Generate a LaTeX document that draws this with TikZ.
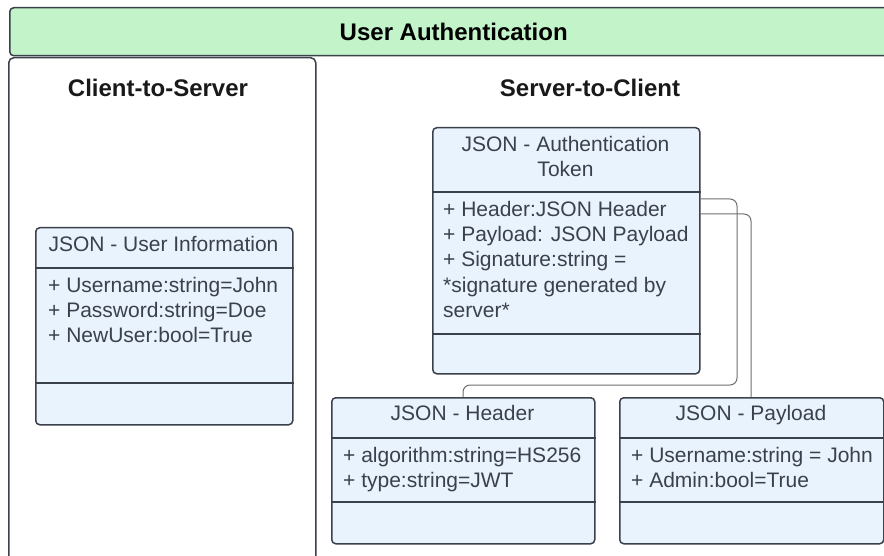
\documentclass[tikz,border=0pt]{standalone}
\usepackage{fontspec}
\setmainfont{Liberation Sans}
\usepackage{xcolor}
\usetikzlibrary{positioning}

\definecolor{edgegray}{HTML}{3A414A}
\definecolor{bannergreen}{HTML}{C3F3C9}
\definecolor{classblue}{HTML}{E9F3FE}
\definecolor{wiregray}{HTML}{6E6E6E}

\tikzset{
    classbox/.style={draw=edgegray, line width=1.5pt, fill=classblue, rounded corners=4pt, anchor=north west, inner sep=0pt},
    sepline/.style={draw=edgegray, line width=1.5pt},
    cname/.style={anchor=base, inner sep=0pt, text=edgegray, font=\fontsize{21}{25}\selectfont},
    attr/.style={anchor=base west, inner sep=0pt, text=edgegray, font=\fontsize{21}{25}\selectfont},
    heading/.style={anchor=base, inner sep=0pt, text=black!90, font=\fontsize{24}{28}\selectfont\bfseries},
    wire/.style={draw=wiregray, line width=1pt, rounded corners=7pt},
}

\begin{document}
\begin{tikzpicture}[x=1pt,y=-1pt]
    \useasboundingbox (0,0) rectangle (884,556);

    % frame
    \node[draw=edgegray, line width=1.5pt, fill=bannergreen, rounded corners=4pt, anchor=north west,
          minimum width=888pt, minimum height=48pt, inner sep=0pt,
          font=\fontsize{24}{28}\selectfont\bfseries] (banner) at (9,7) {User Authentication};
    \node[draw=edgegray, line width=1.5pt, rounded corners=5pt, anchor=north west,
          minimum width=307pt, minimum height=520pt, inner sep=0pt] (clientside) at (8,57) {};

    \node[heading] (c2s) at (158,97) {Client-to-Server};
    \node[heading] (s2c) at (590,97) {Server-to-Client};

    % client side
    \node[classbox, minimum width=257pt, minimum height=197pt] (userinfo) at (35,227) {};
    \draw[sepline] (userinfo.west |- 0,268) -- (userinfo.east |- 0,268);
    \draw[sepline] (userinfo.west |- 0,383) -- (userinfo.east |- 0,383);
    \node[cname] (userinfo-name) at (163.5,252) {JSON - User Information};
    \node[attr] (userinfo-a1) at (48,292) {+ Username:string=John};
    \node[attr] (userinfo-a2) at (48,317) {+ Password:string=Doe};
    \node[attr] (userinfo-a3) at (48,342) {+ NewUser:bool=True};

    % server side
    \node[classbox, minimum width=267pt, minimum height=246pt] (token) at (432,127) {};
    \draw[sepline] (token.west |- 0,192) -- (token.east |- 0,192);
    \draw[sepline] (token.west |- 0,334) -- (token.east |- 0,334);
    \node[cname] (token-name1) at (565.5,152) {JSON - Authentication};
    \node[cname] (token-name2) at (565.5,177) {Token};
    \node[attr] (token-a1) at (443,217) {+ Header:JSON Header};
    \node[attr] (token-a2) at (443,242) {+ Payload: JSON Payload};
    \node[attr] (token-a3) at (443,267) {+ Signature:string =};
    \node[attr] (token-a4) at (443,292) {*signature generated by};
    \node[attr] (token-a5) at (443,317) {server*};

    \node[classbox, minimum width=263pt, minimum height=146pt] (header) at (331,397) {};
    \draw[sepline] (header.west |- 0,438) -- (header.east |- 0,438);
    \draw[sepline] (header.west |- 0,502) -- (header.east |- 0,502);
    \node[cname] (header-name) at (462.5,420) {JSON - Header};
    \node[attr] (header-a1) at (343,462) {+ algorithm:string=HS256};
    \node[attr] (header-a2) at (343,487) {+ type:string=JWT};

    \node[classbox, minimum width=264pt, minimum height=146pt] (payload) at (619,397) {};
    \draw[sepline] (payload.west |- 0,438) -- (payload.east |- 0,438);
    \draw[sepline] (payload.west |- 0,502) -- (payload.east |- 0,502);
    \node[cname] (payload-name) at (751,420) {JSON - Payload};
    \node[attr] (payload-a1) at (631,462) {+ Username:string = John};
    \node[attr] (payload-a2) at (631,487) {+ Admin:bool=True};

    % links
    \draw[wire] (token.east |- 0,199) -- (737,199) -- (737,385) -- (463,385) -- (header.north -| 463,0);
    \draw[wire] (token.east |- 0,214) -- (751,214) -- (payload.north -| 751,0);
\end{tikzpicture}
\end{document}
